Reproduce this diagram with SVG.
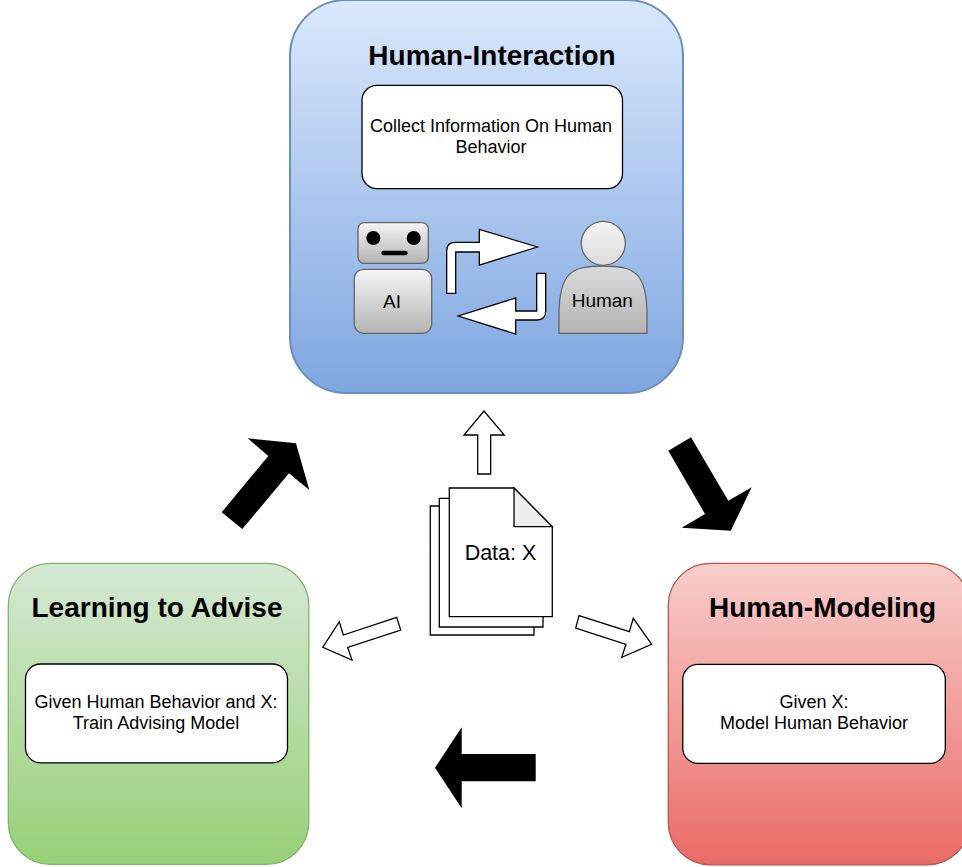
<svg xmlns="http://www.w3.org/2000/svg" width="962" height="867" viewBox="0 0 962 867">
<defs>
<linearGradient id="gb" x1="0" y1="0" x2="0" y2="1"><stop offset="0" stop-color="#dae8fc"/><stop offset="1" stop-color="#7ea6e0"/></linearGradient>
<linearGradient id="gg" x1="0" y1="0" x2="0" y2="1"><stop offset="0" stop-color="#d5e8d4"/><stop offset="1" stop-color="#97d077"/></linearGradient>
<linearGradient id="gr" x1="0" y1="0" x2="0" y2="1"><stop offset="0" stop-color="#f8cecc"/><stop offset="1" stop-color="#ea6b66"/></linearGradient>
<linearGradient id="gy" x1="0" y1="0" x2="0" y2="1"><stop offset="0" stop-color="#f5f5f5"/><stop offset="1" stop-color="#b3b3b3"/></linearGradient>
<linearGradient id="gh" gradientUnits="userSpaceOnUse" x1="0" y1="221" x2="0" y2="333"><stop offset="0" stop-color="#f5f5f5"/><stop offset="1" stop-color="#b3b3b3"/></linearGradient>
</defs>
<style>
text{font-family:"Liberation Sans",Arial,sans-serif;fill:#000;text-anchor:middle}
.t{font-size:28px;font-weight:bold}
.b{font-size:18px}
.w{fill:#fff;stroke:#000;stroke-width:1.3}
.h{fill:#fff;stroke:#000;stroke-width:1.3;stroke-linejoin:miter}
.k{fill:#000;stroke:none}
.y{fill:url(#gy);stroke:#666;stroke-width:1.3}
.z{fill:url(#gh);stroke:#666;stroke-width:1.3}
</style>
<g id="human-interaction">
<rect x="290" y="0" width="393" height="393" rx="56" fill="url(#gb)" stroke="#6c8ebf" stroke-width="2"/>
<text class="t" x="492" y="65">Human-Interaction</text>
<rect class="w" x="362" y="85.300" width="260.500" height="103.300" rx="15"/>
<text class="b" x="491" y="132">Collect Information On Human</text>
<text class="b" x="491" y="153">Behavior</text>
</g>
<g id="ai-robot">
<rect class="y" x="358" y="222.700" width="70.300" height="40.600" rx="6"/>
<circle cx="373.300" cy="238" r="7" fill="#000"/>
<circle cx="413.700" cy="238" r="7" fill="#000"/>
<rect x="381.300" y="250.700" width="26.400" height="4.600" rx="2.300" fill="#000"/>
<rect class="y" x="354.300" y="269.300" width="77.400" height="64" rx="9"/>
<text x="392" y="308" font-size="19">AI</text>
</g>
<g id="human">
<circle class="z" cx="603.300" cy="243.300" r="22"/>
<path class="z" d="M559 333.300V315C559 272 572 266 603 266S647 272 647 315V333.300Z"/>
<text x="602.300" y="306.700" font-size="19">Human</text>
</g>
<g id="learning-to-advise">
<rect x="8.300" y="563.300" width="300.500" height="301" rx="42" fill="url(#gg)" stroke="#82b366" stroke-width="1.300"/>
<text class="t" x="157" y="616.500">Learning to Advise</text>
<rect class="w" x="25.500" y="664" width="262" height="98.800" rx="15"/>
<text class="b" x="156" y="708">Given Human Behavior and X:</text>
<text class="b" x="156" y="729">Train Advising Model</text>
</g>
<g id="human-modeling">
<rect x="668.300" y="563.300" width="301" height="301.500" rx="42" fill="url(#gr)" stroke="#b85450" stroke-width="1.300"/>
<text class="t" x="822.500" y="616.500">Human-Modeling</text>
<rect class="w" x="682.800" y="664.300" width="262.500" height="99" rx="15"/>
<text class="b" x="814" y="708">Given X:</text>
<text class="b" x="814" y="729">Model Human Behavior</text>
</g>
<g id="data-x">
<path class="w" d="M430.300 506H495L534 545V635H430.300Z"/>
<path class="w" d="M439.300 498.300H504L543 537V627H439.300Z"/>
<path class="w" d="M449.300 488H514L552.300 526.700V616.700H449.300Z"/>
<path d="M514 488L552.300 526.700H514Z" fill="#eee" stroke="#000" stroke-width="1.300"/>
<text x="500.500" y="559.500" font-size="21.500">Data: X</text>
</g>
<g id="connectors">
<path class="h" d="M446.700 293.300H455.700V252H479.300V265L537.300 247L479.300 229.300V242.300H455Q446.700 242.300 446.700 250.700Z"/>
<path class="h" d="M545.700 273.300H536.700V311H515.700V298L458.300 316L515.700 334V320H537Q545.700 320 545.700 311Z"/>
<path class="h" d="M484 411L464 435H477.700V474H490.700V435H504.300Z"/>
<path class="h" d="M322.700 647.300L339.300 621.700L343.300 635L396.700 617.300L400.700 630L347.700 647.300L352 660Z"/>
<path class="h" d="M651.700 644.300L633.300 618.300L629.300 631.700L579 615.700L575.700 628L626 644.300L621.700 657.300Z"/>
<path class="k" d="M221.700 512.300L242.300 529L289 473.300L309.300 490L296 443.300L247.700 438.300L268.300 456Z"/>
<path class="k" d="M668.300 450.700L691 437.300L728.300 500.700L751.700 487.300L730.700 530.700L681.700 527.700L705 514Z"/>
<path class="k" d="M435 767.700L461.700 727.300V754H535.700V781.300H461.700V808.300Z"/>
</g>
</svg>
